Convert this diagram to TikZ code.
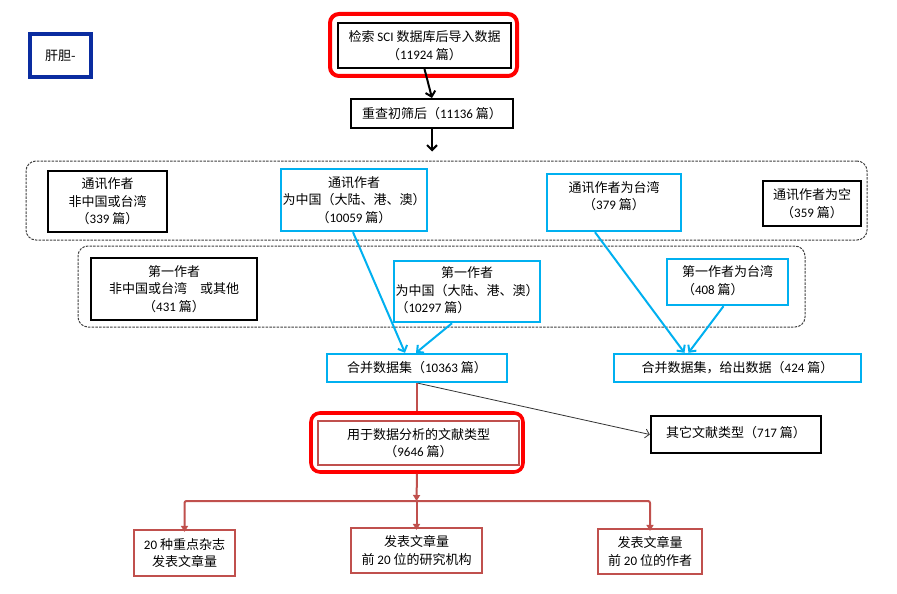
\documentclass[tikz,border=0pt]{standalone}
\usepackage{fontspec}
\setmainfont{Noto Sans CJK SC}
\newfontfamily\lat{Carlito}
\usetikzlibrary{arrows.meta,calc}
\definecolor{skyb}{HTML}{00B0F0}
\definecolor{brick}{HTML}{C0504D}
\definecolor{navy}{HTML}{0A2CA0}
\definecolor{pred}{HTML}{FF0000}
\newcommand\fz{\fontsize{13}{17.5}\selectfont}
\newcommand\mkbox[7]{\node[#6, minimum width={#4-#2}, minimum height={#5-#3}] (#1) at ({(#2+#4)/2},{(#3+#5)/2}) {#7};}
\tikzset{
  base/.style={inner sep=0pt, align=center, font=\fz},
  blk/.style={base, draw=black, line width=2.4pt},
  blkthin/.style={base, draw=black, line width=2pt},
  blu/.style={base, draw=skyb, line width=2.4pt},
  brk/.style={base, draw=brick, line width=2.2pt},
  navybox/.style={base, draw=navy, line width=3.2pt},
  cont/.style={draw=black!75, line width=1pt, rounded corners=10pt, dash pattern=on 2.5pt off 1.2pt},
  redring/.style={draw=pred, line width=4pt, rounded corners=9pt},
  karr/.style={black, line width=2pt, -{Straight Barb[length=5pt,width=10pt]}},
  barr/.style={skyb, line width=2pt, -{Straight Barb[length=5pt,width=10pt]}},
  thinarr/.style={black!80, line width=0.8pt, -{Straight Barb[length=4pt,width=9pt]}},
  redarr/.style={brick, line width=2pt, -{Triangle[length=6pt,width=7pt]}},
  redline/.style={brick, line width=2pt},
}
\begin{document}
\begin{tikzpicture}[x=1pt,y=-1pt]
\fill[white] (0,0) rectangle (897,594);
\useasboundingbox (0,0) rectangle (897,594);

% top-left tag
\mkbox{gd}{30}{34}{91}{77}{navybox}{肝胆-}

% top
\node[redring, minimum width=187, minimum height=62] (ring1) at (423.5,45) {};
\mkbox{t1}{338}{23}{511}{68}{blkthin}{检索 {\lat SCI} 数据库后导入数据\\（{\lat 11924} 篇）}
\mkbox{t2}{351}{99}{513}{128}{blkthin}{重查初筛后（{\lat 11136} 篇）}

% containers
\node[cont, minimum width=841, minimum height=79] (cont1) at (446.5,200.5) {};
\node[cont, minimum width=727, minimum height=81] (cont2) at (441.5,286.5) {};

% corresponding author row
\mkbox{c1}{48}{171}{167}{232}{blk}{通讯作者\\非中国或台湾\\（{\lat 339} 篇）}
\mkbox{c2}{281}{169}{427}{231}{blu}{通讯作者\\为中国（大陆、港、澳）\\（{\lat 10059} 篇）}
\mkbox{c3}{547}{174}{681}{231}{blu}{\raisebox{5pt}[\height][\depth]{\begin{tabular}{@{}c@{}}通讯作者为台湾\\（{\lat 379} 篇）\end{tabular}}}
\mkbox{c4}{763}{181}{861}{226}{blk}{通讯作者为空\\（{\lat 359} 篇）}

% first author row
\mkbox{f1}{91}{258}{257}{320}{blk}{第一作者\\非中国或台湾\hspace{1em}或其他\\（{\lat 431} 篇）}
\mkbox{f2}{394}{261}{540}{322}{blu}{\begin{tabular}{@{}l@{}}\multicolumn{1}{@{}c@{}}{第一作者}\\为中国（大陆、港、澳）\\（{\lat 10297} 篇）\end{tabular}}
\mkbox{f3}{667}{259}{788}{305}{blu}{\begin{tabular}{@{}l@{}}第一作者为台湾\\（{\lat 408} 篇）\end{tabular}}

% merged
\mkbox{m1}{327}{354}{507}{382}{blu}{合并数据集（{\lat 10363} 篇）}
\mkbox{m2}{614}{354}{861}{382}{blu}{合并数据集，给出数据（{\lat 424} 篇）}

% analysis
\node[redring, line width=3.6pt, minimum width=212, minimum height=59] (ring2) at (417,442.5) {};
\mkbox{k}{318}{421}{519}{465}{brk}{用于数据分析的文献类型\\（{\lat 9646} 篇）}
\mkbox{o}{651}{416}{821}{453}{blk}{\raisebox{2pt}[\height][\depth]{其它文献类型（{\lat 717} 篇）}}

% bottom
\mkbox{b1}{134}{530}{235}{576}{brk}{{\lat 20} 种重点杂志\\发表文章量}
\mkbox{b2}{351}{528}{482}{573}{brk}{发表文章量\\前 {\lat 20} 位的研究机构}
\mkbox{b3}{598}{529}{702}{574}{brk}{发表文章量\\前 {\lat 20} 位的作者}

% connectors
\draw[karr] (t1.south) -- (t2.north);
\draw[karr, shorten >=9pt] (t2.south) -- (t2.south |- cont1.north);

\draw[barr] ([xshift=-1pt]c2.south) -- ([xshift=-12pt]m1.north);
\draw[barr] ([xshift=-15pt]f2.south) -- ([xshift=-1pt]m1.north);
\draw[barr] ([xshift=-19pt]c3.south) -- ([xshift=-53pt]m2.north);
\draw[barr] ([xshift=-4pt]f3.south) -- ([xshift=-49pt]m2.north);

\draw[redline] (m1.south) -- (ring2.north);
\draw[thinarr] ([xshift=1pt]m1.south) -- (o.west);

\coordinate (sp) at (416.5,501);
\draw[redarr] (ring2.south) -- (sp);
\draw[redarr, rounded corners=2pt] (sp) -| ([yshift=-3pt]b1.north);
\draw[redarr] (sp) -- ([yshift=-3pt]b2.north);
\draw[redarr, rounded corners=2pt] (sp) -| ([yshift=-3pt]b3.north);
\end{tikzpicture}
\end{document}
